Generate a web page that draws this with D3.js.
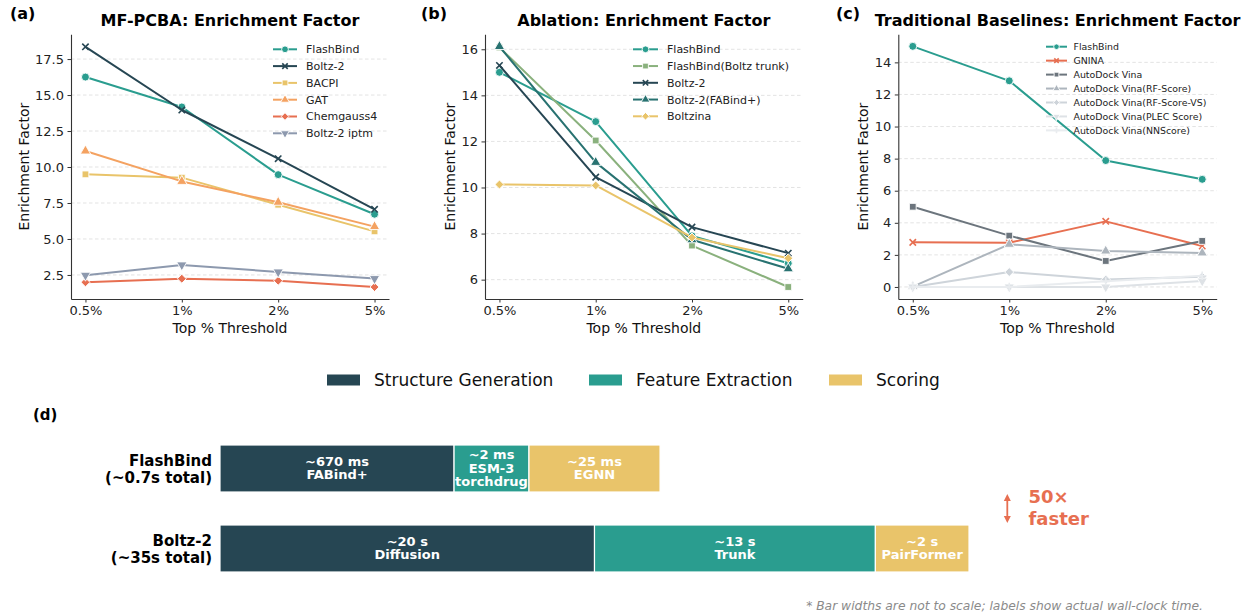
<!DOCTYPE html>
<html>
<head>
<meta charset="utf-8">
<script src="https://cdn.jsdelivr.net/npm/d3@7"></script>
<style>
  body { margin: 0; background: #fff; }
  svg { display: block; font-family: "DejaVu Sans", sans-serif; }
</style>
</head>
<body>
<svg id="fig" width="1244" height="613"></svg>
<script>
// ---------- data ----------
const thresholds = ["0.5%", "1%", "2%", "5%"];

// (a) MF-PCBA enrichment factor
const mfNames = ["FlashBind", "Boltz-2", "BACPI", "GAT", "Chemgauss4", "Boltz-2 iptm"];
const mfFlashBind  = [16.25, 14.17, 9.47, 6.72];
const mfBoltz2     = [18.35, 13.96, 10.58, 7.06];
const mfBACPI      = [9.49, 9.26, 7.38, 5.53];
const mfGAT        = [11.11, 9.00, 7.55, 5.86];
const mfChemgauss4 = [1.99, 2.24, 2.10, 1.66];
const mfBoltz2Iptm = [2.48, 3.20, 2.71, 2.25];
const mfTicks = [2.5, 5.0, 7.5, 10.0, 12.5, 15.0, 17.5];

// (b) ablation enrichment factor
const abNames = ["FlashBind", "FlashBind(Boltz trunk)", "Boltz-2", "Boltz-2(FABind+)", "Boltzina"];
const abFlashBind      = [15.00, 12.86, 7.90, 6.71];
const abFlashBindTrunk = [16.08, 12.04, 7.48, 5.68];
const abBoltz2         = [15.30, 10.45, 8.28, 7.15];
const abBoltz2FABind   = [16.12, 11.09, 7.73, 6.47];
const abBoltzina       = [10.13, 10.09, 7.83, 6.93];
const abTicks = [6, 8, 10, 12, 14, 16];

// (c) traditional baselines enrichment factor
const tbNames = ["FlashBind", "GNINA", "AutoDock Vina", "AutoDock Vina(RF-Score)",
                 "AutoDock Vina(RF-Score-VS)", "AutoDock Vina(PLEC Score)", "AutoDock Vina(NNScore)"];
const tbFlashBind = [15.00, 12.85, 7.88, 6.71];
const tbGNINA     = [2.78, 2.76, 4.09, 2.55];
const tbVina      = [5.00, 3.20, 1.62, 2.87];
const tbRFScore   = [0.02, 2.66, 2.24, 2.12];
const tbRFScoreVS = [0.00, 0.93, 0.46, 0.64];
const tbPLEC      = [0.00, 0.00, 0.00, 0.37];
const tbNNScore   = [0.00, 0.00, 0.35, 0.70];
const tbTicks = [0, 2, 4, 6, 8, 10, 12, 14];

// (d) runtime breakdown (display widths are schematic, not to scale)
const pipelines = ["FlashBind", "Boltz-2"];
const pipelineTotals = ["(~0.7s total)", "(~35s total)"];
const stages = ["Structure Generation", "Feature Extraction", "Scoring"];
const flashBindWidths = [2.5, 0.8, 1.4];
const boltzWidths = [4, 3, 1];
const flashBindTimes = ["~670 ms", "~2 ms", "~25 ms"];
const flashBindMethods = [["FABind+"], ["ESM-3", "torchdrug"], ["EGNN"]];
const boltzTimes = ["~20 s", "~13 s", "~2 s"];
const boltzMethods = [["Diffusion"], ["Trunk"], ["PairFormer"]];
const speedup = ["50×", "faster"];
const footnote = "* Bar widths are not to scale; labels show actual wall-clock time.";

// ---------- styles ----------
const C = {
  teal: "#2a9d8f", dark: "#264653", yellow: "#e9c46a", orange: "#f4a261",
  red: "#e76f51", slate: "#8d99ae", green: "#8ab17d", deepTeal: "#287271",
  g1: "#6c757d", g2: "#adb5bd", g3: "#ced4da", g4: "#dee2e6", g5: "#e9ecef"
};

const svg = d3.select("#fig");

function drawMarker(sel, kind, color, s) {
  const filled = { circle: [d3.symbolCircle, 50, 0], square: [d3.symbolSquare, 46, 0],
                   triangle: [d3.symbolTriangle, 46, 0], triangleDown: [d3.symbolTriangle, 46, 180],
                   diamond: [d3.symbolSquare, 40, 45] };
  if (filled[kind]) {
    const [type, size, rot] = filled[kind];
    sel.append("path")
      .attr("d", d3.symbol(type, size * s * s)())
      .attr("transform", `rotate(${rot})`)
      .attr("fill", color).attr("stroke", "#fff").attr("stroke-width", 0.9);
  } else {
    const h = (kind === "x" ? 3.2 : 4.2) * s;
    const d = kind === "x"
      ? `M${-h},${-h}L${h},${h}M${-h},${h}L${h},${-h}`
      : `M${-h},0L${h},0M0,${-h}L0,${h}`;
    sel.append("path").attr("d", d).attr("fill", "none")
      .attr("stroke", color).attr("stroke-width", 1.6);
  }
}

function linePanel(p) {
  const top = 34.3, bottom = 299;
  const x = d3.scaleLinear().domain([-0.15, 3.15]).range([p.left, p.right]);
  const y = d3.scaleLinear().domain(p.yDomain).range([bottom, top]);
  const g = svg.append("g");

  // horizontal dashed grid
  g.append("g").selectAll("line").data(p.yTicks).join("line")
    .attr("x1", p.left).attr("x2", p.right)
    .attr("y1", d => y(d)).attr("y2", d => y(d))
    .attr("stroke", "#dcdcdc").attr("stroke-width", 0.8)
    .attr("stroke-dasharray", "3.5,2.5");

  // axes
  const gx = g.append("g").attr("transform", `translate(0,${bottom})`)
    .call(d3.axisBottom(x).tickValues([0, 1, 2, 3]).tickFormat(i => thresholds[i])
      .tickSizeOuter(0).tickSizeInner(3.5).tickPadding(3.5));
  const gy = g.append("g").attr("transform", `translate(${p.left},0)`)
    .call(d3.axisLeft(y).tickValues(p.yTicks).tickFormat(p.fmt)
      .tickSizeOuter(0).tickSizeInner(3.5).tickPadding(3.5));
  [gx, gy].forEach(a => {
    a.selectAll("text").attr("font-size", 13).attr("font-family", "DejaVu Sans").attr("fill", "#222");
    a.selectAll("line").attr("stroke", "#333");
    a.select(".domain").attr("stroke", "#333").attr("stroke-width", 1.1);
  });

  // series
  const line = d3.line().x((d, i) => x(i)).y(d => y(d));
  p.series.forEach(sr => {
    const sg = g.append("g");
    sg.append("path").datum(sr.values).attr("d", line)
      .attr("fill", "none").attr("stroke", sr.color).attr("stroke-width", 2)
      .attr("stroke-linejoin", "round");
    sr.values.forEach((v, i) => {
      drawMarker(sg.append("g").attr("transform", `translate(${x(i)},${y(v)})`), sr.marker, sr.color, 1);
    });
  });

  // legend
  const L = p.legend;
  p.series.forEach((sr, i) => {
    const ly = L.y0 + i * L.dy;
    const lg = g.append("g");
    lg.append("line").attr("x1", L.x0).attr("x2", L.x1).attr("y1", ly).attr("y2", ly)
      .attr("stroke", sr.color).attr("stroke-width", 2);
    drawMarker(lg.append("g").attr("transform", `translate(${(L.x0 + L.x1) / 2},${ly})`), sr.marker, sr.color, L.ms);
    lg.append("text").attr("x", L.tx).attr("y", ly).attr("dy", "0.36em")
      .attr("font-size", L.fs).attr("fill", "#222").text(sr.name);
  });

  // titles and labels
  const cx = (p.left + p.right) / 2;
  g.append("text").attr("x", cx).attr("y", 26).attr("text-anchor", "middle")
    .attr("font-size", 16).attr("font-weight", "bold").text(p.title);
  g.append("text").attr("x", p.labelX).attr("y", 19).attr("font-size", 16)
    .attr("font-weight", "bold").text(p.label);
  g.append("text").attr("x", cx).attr("y", 333).attr("text-anchor", "middle")
    .attr("font-size", 14).attr("fill", "#111").text("Top % Threshold");
  g.append("text").attr("transform", `translate(${p.yLabelX},${(top + bottom) / 2}) rotate(-90)`)
    .attr("text-anchor", "middle").attr("font-size", 14).attr("fill", "#111").text("Enrichment Factor");
}

const f1 = d3.format(".1f"), f0 = d3.format("d");

linePanel({
  left: 71, right: 389, yDomain: [0.83, 19.22], yTicks: mfTicks, fmt: f1,
  title: "MF-PCBA: Enrichment Factor", label: "(a)", labelX: 10, yLabelX: 29,
  series: [
    { name: mfNames[0], values: mfFlashBind, color: C.teal, marker: "circle" },
    { name: mfNames[1], values: mfBoltz2, color: C.dark, marker: "x" },
    { name: mfNames[2], values: mfBACPI, color: C.yellow, marker: "square" },
    { name: mfNames[3], values: mfGAT, color: C.orange, marker: "triangle" },
    { name: mfNames[4], values: mfChemgauss4, color: C.red, marker: "diamond" },
    { name: mfNames[5], values: mfBoltz2Iptm, color: C.slate, marker: "triangleDown" }
  ],
  legend: { x0: 273, x1: 297, tx: 306, y0: 49.3, dy: 16.8, fs: 11, ms: 0.85 }
});

linePanel({
  left: 485, right: 802.7, yDomain: [5.16, 16.65], yTicks: abTicks, fmt: f0,
  title: "Ablation: Enrichment Factor", label: "(b)", labelX: 421, yLabelX: 455,
  series: [
    { name: abNames[0], values: abFlashBind, color: C.teal, marker: "circle" },
    { name: abNames[1], values: abFlashBindTrunk, color: C.green, marker: "square" },
    { name: abNames[2], values: abBoltz2, color: C.dark, marker: "x" },
    { name: abNames[3], values: abBoltz2FABind, color: C.deepTeal, marker: "triangle" },
    { name: abNames[4], values: abBoltzina, color: C.yellow, marker: "diamond" }
  ],
  legend: { x0: 633, x1: 658, tx: 667, y0: 49.3, dy: 16.75, fs: 11, ms: 0.85 }
});

linePanel({
  left: 898.3, right: 1216.7, yDomain: [-0.75, 15.75], yTicks: tbTicks, fmt: f0,
  title: "Traditional Baselines: Enrichment Factor", label: "(c)", labelX: 836, yLabelX: 868,
  series: [
    { name: tbNames[0], values: tbFlashBind, color: C.teal, marker: "circle" },
    { name: tbNames[1], values: tbGNINA, color: C.red, marker: "x" },
    { name: tbNames[2], values: tbVina, color: C.g1, marker: "square" },
    { name: tbNames[3], values: tbRFScore, color: C.g2, marker: "triangle" },
    { name: tbNames[4], values: tbRFScoreVS, color: C.g3, marker: "diamond" },
    { name: tbNames[5], values: tbPLEC, color: C.g4, marker: "triangleDown" },
    { name: tbNames[6], values: tbNNScore, color: C.g5, marker: "plus" }
  ],
  legend: { x0: 1046, x1: 1067, tx: 1073.5, y0: 46.7, dy: 13.95, fs: 9.4, ms: 0.7 }
});

// ---------- (d) runtime breakdown ----------
const stageColors = [C.dark, C.teal, C.yellow];
const xb = d3.scaleLinear().domain([0, 8]).range([220, 969]);
const yb = d3.scaleBand().domain(pipelines).range([445, 572]).paddingInner(0.4125);

const dg = svg.append("g");
dg.append("text").attr("x", 33).attr("y", 419.5).attr("font-size", 15)
  .attr("font-weight", "bold").text("(d)");

// legend row
const legX = [327, 589, 829];
stages.forEach((s, i) => {
  dg.append("rect").attr("x", legX[i]).attr("y", 374.5).attr("width", 33).attr("height", 11)
    .attr("fill", stageColors[i]);
  dg.append("text").attr("x", legX[i] + 47).attr("y", 380).attr("dy", "0.36em")
    .attr("font-size", 17).attr("fill", "#111").text(s);
});

const rows = [
  { name: pipelines[0], total: pipelineTotals[0], widths: flashBindWidths, times: flashBindTimes, methods: flashBindMethods },
  { name: pipelines[1], total: pipelineTotals[1], widths: boltzWidths, times: boltzTimes, methods: boltzMethods }
];

rows.forEach(r => {
  const y0 = yb(r.name), h = yb.bandwidth(), cy = y0 + h / 2;
  const starts = d3.cumsum([0, ...r.widths]);
  r.widths.forEach((w, i) => {
    const xa = xb(starts[i]), xe = xb(starts[i] + w);
    dg.append("rect").attr("x", xa).attr("y", y0).attr("width", xe - xa).attr("height", h)
      .attr("fill", stageColors[i]).attr("stroke", "#fff").attr("stroke-width", 1.2);
    const lines = [r.times[i], ...r.methods[i]];
    const lh = 13.7;
    lines.forEach((t, k) => {
      dg.append("text").attr("x", (xa + xe) / 2)
        .attr("y", cy + (k - (lines.length - 1) / 2) * lh - 0.6).attr("dy", "0.36em")
        .attr("text-anchor", "middle").attr("font-size", 13).attr("font-weight", "bold")
        .attr("fill", "#fff").text(t);
    });
  });
  dg.append("text").attr("x", 212).attr("y", cy - 7.5).attr("dy", "0.36em")
    .attr("text-anchor", "end").attr("font-size", 15).attr("font-weight", "bold").text(r.name);
  dg.append("text").attr("x", 212).attr("y", cy + 9.5).attr("dy", "0.36em")
    .attr("text-anchor", "end").attr("font-size", 15).attr("font-weight", "bold").text(r.total);
});

// speed-up annotation
const ax0 = 1007.3, ay0 = 494, ay1 = 523;
dg.append("line").attr("x1", ax0).attr("x2", ax0).attr("y1", ay0 + 4).attr("y2", ay1 - 4)
  .attr("stroke", C.red).attr("stroke-width", 1.8);
dg.append("path").attr("d", `M${ax0},${ay0}L${ax0 - 3.5},${ay0 + 7}L${ax0 + 3.5},${ay0 + 7}Z`).attr("fill", C.red);
dg.append("path").attr("d", `M${ax0},${ay1}L${ax0 - 3.5},${ay1 - 7}L${ax0 + 3.5},${ay1 - 7}Z`).attr("fill", C.red);
speedup.forEach((t, k) => {
  dg.append("text").attr("x", 1028.5).attr("y", 496.7 + k * 21.6).attr("dy", "0.36em")
    .attr("font-size", 18).attr("font-weight", "bold").attr("fill", C.red).text(t);
});

dg.append("text").attr("x", 1203).attr("y", 606).attr("dy", "0.36em")
  .attr("text-anchor", "end").attr("font-size", 12.3).attr("font-style", "italic")
  .attr("fill", "#8a8a8a").text(footnote);
</script>
</body>
</html>
